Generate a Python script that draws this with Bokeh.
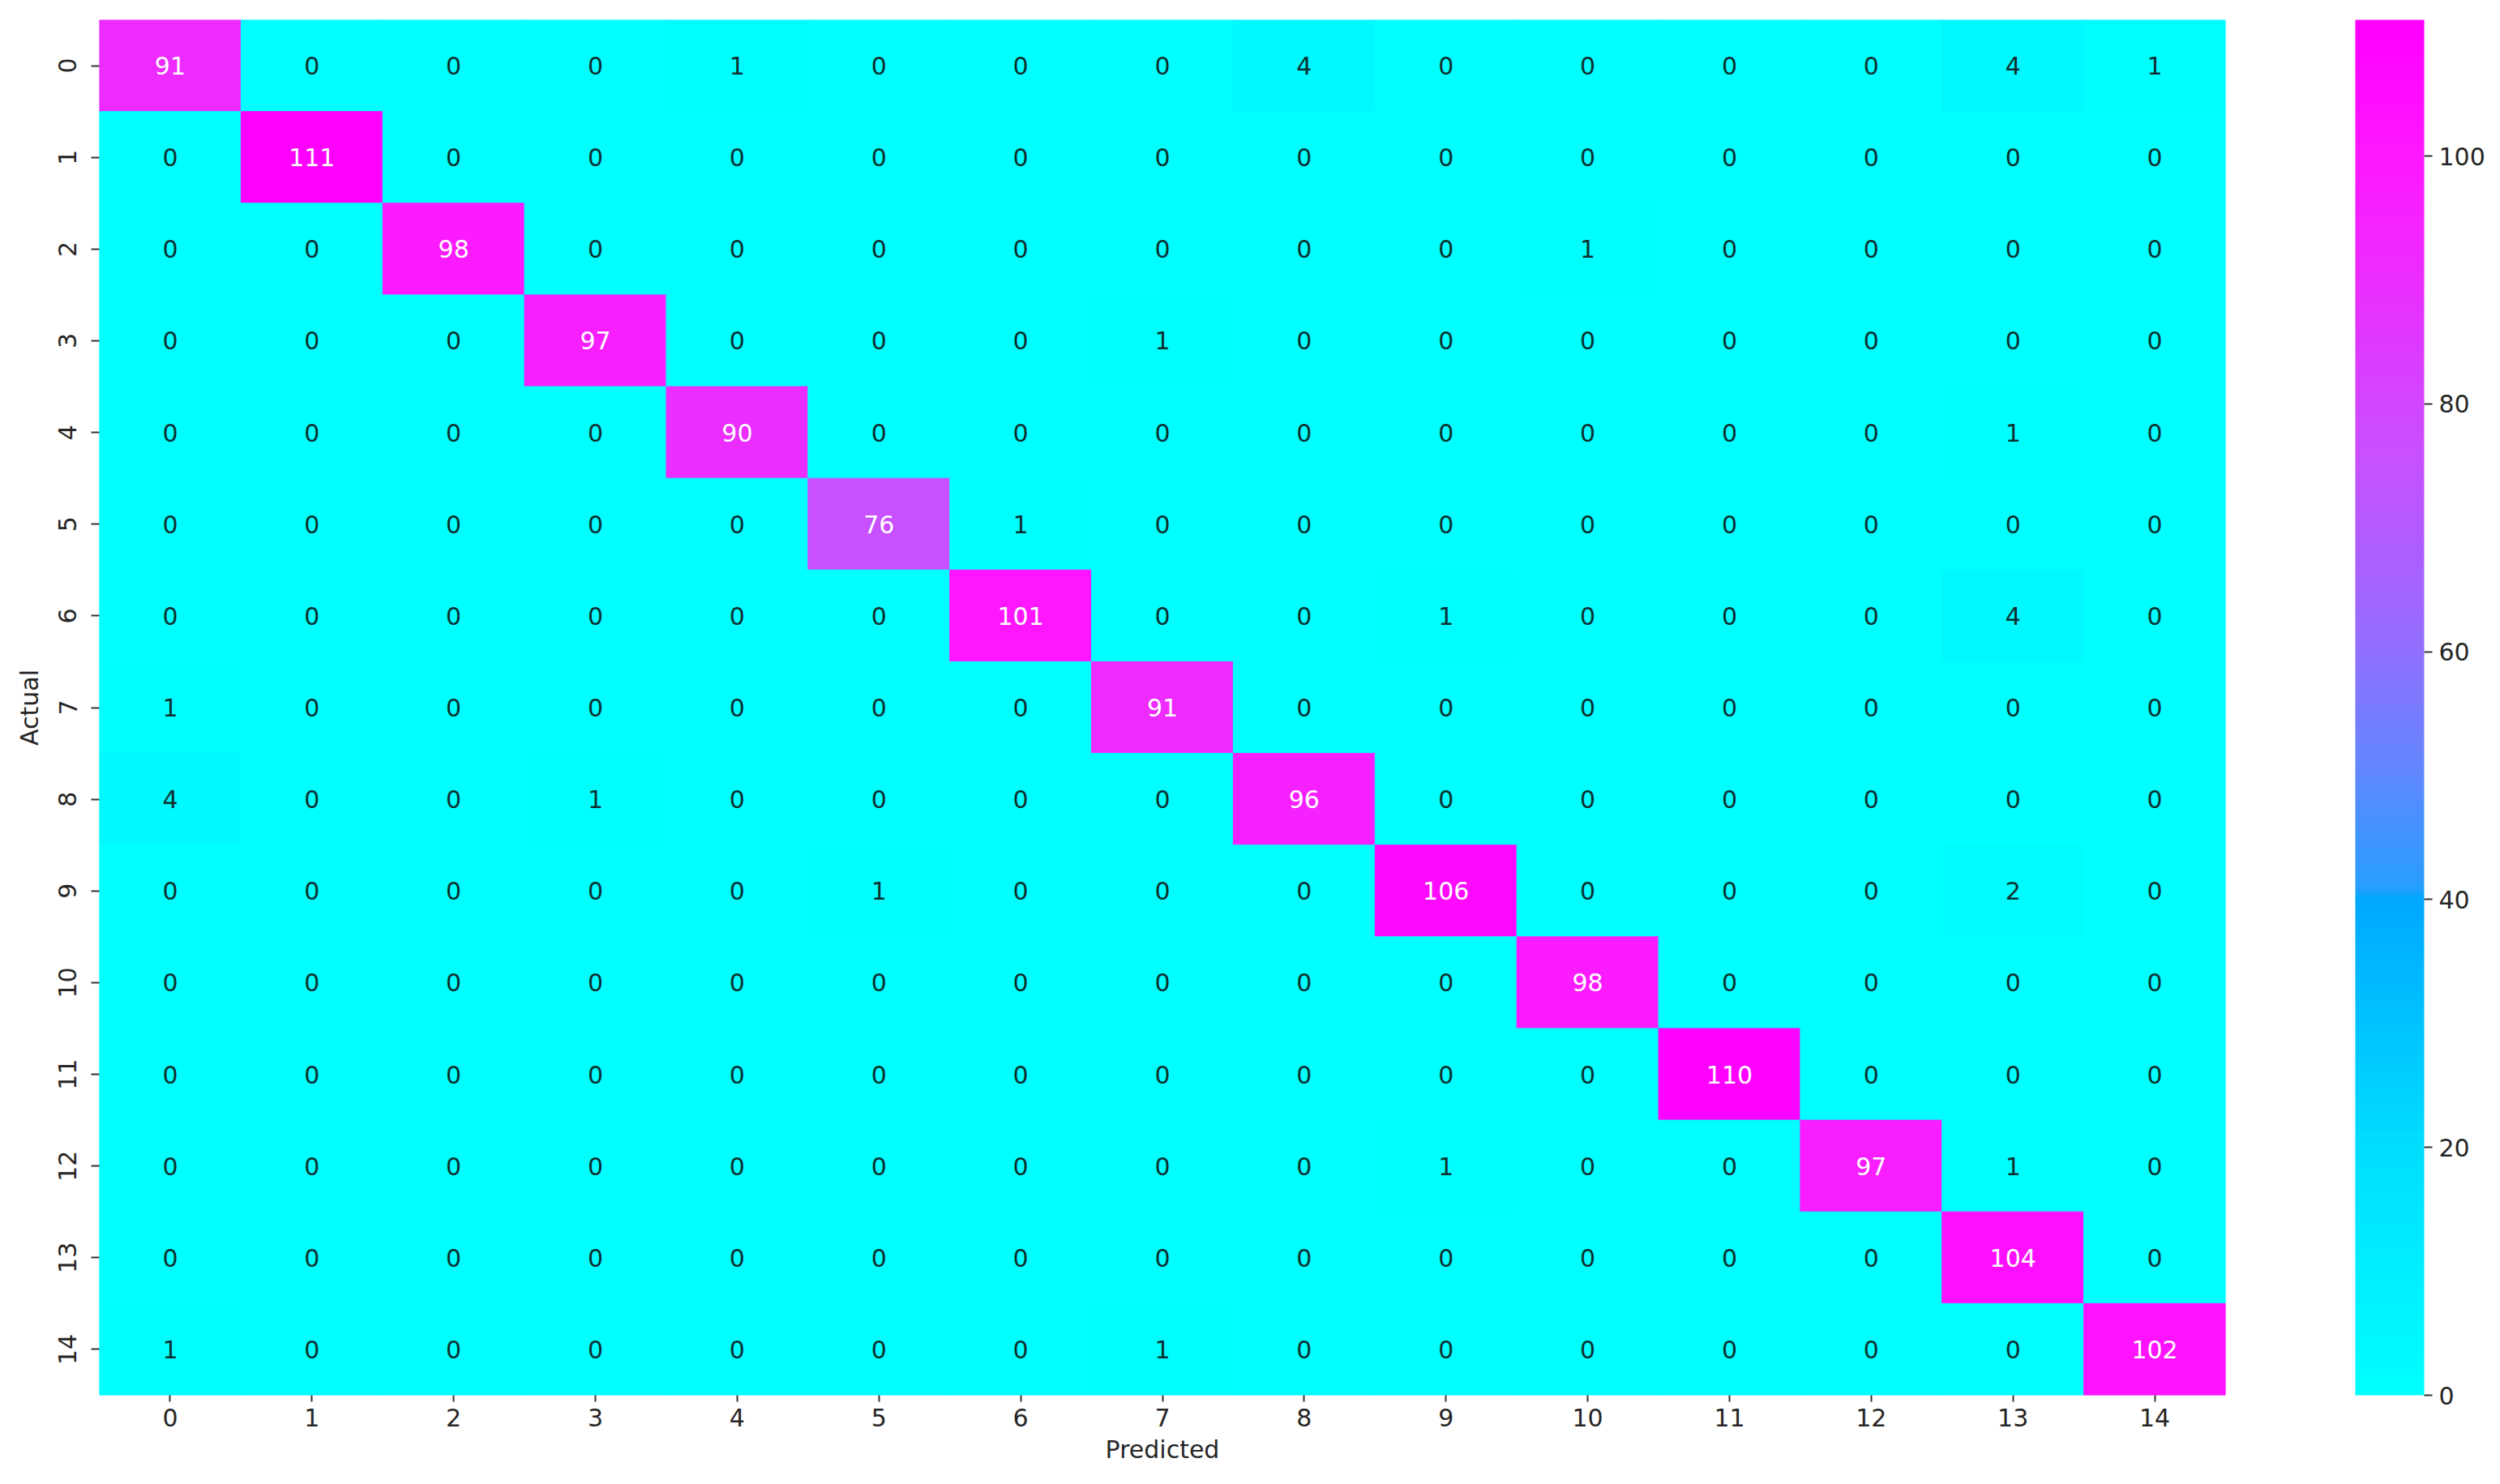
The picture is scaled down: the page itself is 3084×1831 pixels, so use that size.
from bokeh.plotting import figure
from bokeh.models import ColumnDataSource, LinearColorMapper, ColorBar, FixedTicker, FactorRange
from bokeh.embed import file_html
from bokeh.resources import INLINE
from bokeh.core.properties import value

classes = [str(i) for i in range(15)]
x_title = "Predicted"
y_title = "Actual"

confusion = [
    [91, 0, 0, 0, 1, 0, 0, 0, 4, 0, 0, 0, 0, 4, 1],
    [0, 111, 0, 0, 0, 0, 0, 0, 0, 0, 0, 0, 0, 0, 0],
    [0, 0, 98, 0, 0, 0, 0, 0, 0, 0, 1, 0, 0, 0, 0],
    [0, 0, 0, 97, 0, 0, 0, 1, 0, 0, 0, 0, 0, 0, 0],
    [0, 0, 0, 0, 90, 0, 0, 0, 0, 0, 0, 0, 0, 1, 0],
    [0, 0, 0, 0, 0, 76, 1, 0, 0, 0, 0, 0, 0, 0, 0],
    [0, 0, 0, 0, 0, 0, 101, 0, 0, 1, 0, 0, 0, 4, 0],
    [1, 0, 0, 0, 0, 0, 0, 91, 0, 0, 0, 0, 0, 0, 0],
    [4, 0, 0, 1, 0, 0, 0, 0, 96, 0, 0, 0, 0, 0, 0],
    [0, 0, 0, 0, 0, 1, 0, 0, 0, 106, 0, 0, 0, 2, 0],
    [0, 0, 0, 0, 0, 0, 0, 0, 0, 0, 98, 0, 0, 0, 0],
    [0, 0, 0, 0, 0, 0, 0, 0, 0, 0, 0, 110, 0, 0, 0],
    [0, 0, 0, 0, 0, 0, 0, 0, 0, 1, 0, 0, 97, 1, 0],
    [0, 0, 0, 0, 0, 0, 0, 0, 0, 0, 0, 0, 0, 104, 0],
    [1, 0, 0, 0, 0, 0, 0, 1, 0, 0, 0, 0, 0, 0, 102],
]
cbar_ticks = [0, 20, 40, 60, 80, 100]
vmin, vmax = 0, 111

# colormap anchors (value, rgb) - cyan -> sky blue -> violet -> magenta
anchors = [
    (0, (0, 255, 255)),
    (20, (0, 221, 255)),
    (40, (0, 168, 255)),
    (41, (40, 158, 255)),
    (50, (95, 136, 255)),
    (60, (145, 112, 255)),
    (67, (170, 96, 255)),
    (76, (200, 80, 255)),
    (90, (235, 45, 255)),
    (100, (255, 24, 255)),
    (111, (255, 0, 255)),
]


def cmap(v):
    for (v0, c0), (v1, c1) in zip(anchors[:-1], anchors[1:]):
        if v <= v1:
            t = (v - v0) / (v1 - v0) if v1 > v0 else 0
            return tuple(int(round(a + (b - a) * t)) for a, b in zip(c0, c1))
    return anchors[-1][1]


N = 256
palette = ["#%02x%02x%02x" % cmap(vmin + (vmax - vmin) * i / (N - 1)) for i in range(N)]

xs, ys, vals, labels, tcolors = [], [], [], [], []
for r, row in enumerate(confusion):
    for c, v in enumerate(row):
        xs.append(classes[c])
        ys.append(classes[r])
        vals.append(v)
        labels.append(str(v))
        tcolors.append("#ffffff" if v > 55 else "#0c3030")

src = ColumnDataSource(dict(x=xs, y=ys, v=vals, label=labels, tc=tcolors))
mapper = LinearColorMapper(palette=palette, low=vmin, high=vmax)

p = figure(
    width=3068, height=1815,
    x_range=FactorRange(*classes), y_range=FactorRange(*reversed(classes)),
    output_backend="svg", toolbar_location=None,
    min_border_left=122, min_border_top=24, min_border_bottom=94, min_border_right=322,
)
p.outline_line_color = None
p.grid.visible = False
p.background_fill_color = "white"

p.rect(x="x", y="y", width=1, height=1, source=src,
       fill_color={"field": "v", "transform": mapper},
       line_color={"field": "v", "transform": mapper}, line_width=1)
p.text(x="x", y="y", text="label", source=src, text_color="tc",
       text_align="center", text_baseline="middle",
       text_font=value("DejaVu Sans"), text_font_size="30px")

for ax in (p.xaxis[0], p.yaxis[0]):
    ax.axis_line_color = None
    ax.major_tick_in = 0
    ax.major_tick_line_color = "#333333"
    ax.major_tick_line_width = 2
    ax.minor_tick_line_color = None
    ax.major_label_text_font = "DejaVu Sans"
    ax.major_label_text_font_size = "30px"
    ax.major_label_text_color = "#262626"
    ax.axis_label_text_font = "DejaVu Sans"
    ax.axis_label_text_font_size = "30px"
    ax.axis_label_text_font_style = "normal"
    ax.axis_label_text_color = "#262626"

p.xaxis.major_tick_out = 8
p.yaxis.major_tick_out = 10
p.xaxis.major_label_standoff = 8
p.yaxis.major_label_standoff = 18
p.xaxis.axis_label = x_title
p.yaxis.axis_label = y_title
p.yaxis.major_label_orientation = "vertical"
p.xaxis.axis_label_standoff = 8
p.yaxis.axis_label_standoff = 16

cb = ColorBar(
    color_mapper=mapper, ticker=FixedTicker(ticks=cbar_ticks),
    width=85, height=1697, padding=0, margin=0, location=(160, 0),
    major_tick_out=10, major_tick_in=0, major_tick_line_color="#333333", major_tick_line_width=2,
    minor_tick_line_color=None, label_standoff=8,
    major_label_text_font="DejaVu Sans", major_label_text_font_size="30px",
    major_label_text_color="#262626",
    bar_line_color=None, border_line_color=None, background_fill_color=None,
)
p.add_layout(cb, "right")

open("out.html", "w").write(file_html(p, INLINE))
